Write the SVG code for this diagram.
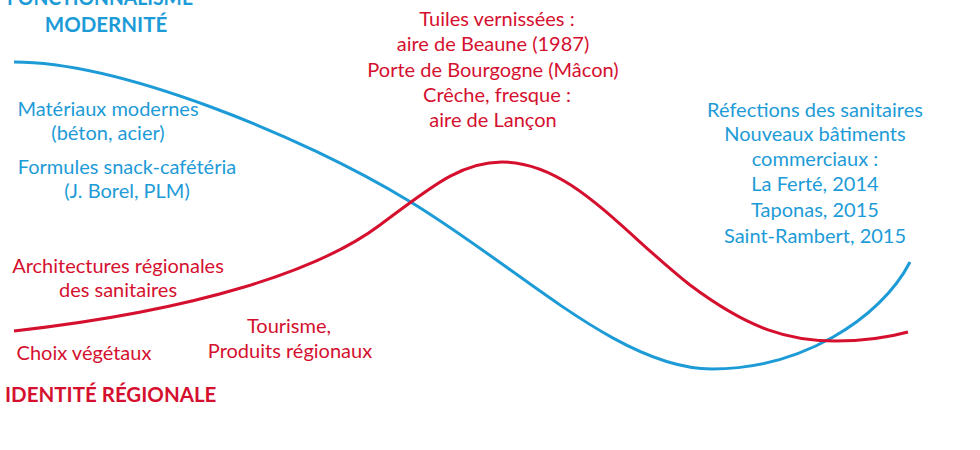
<svg xmlns="http://www.w3.org/2000/svg" width="980" height="450" viewBox="0 0 980 450">
<style>
.t{font-family:Lato,"Open Sans","Liberation Sans",sans-serif;font-size:20px;text-anchor:middle}
.h{font-family:Lato,"Open Sans","Liberation Sans",sans-serif;font-size:20.5px;font-weight:bold}
.b{fill:#1d9bd7}
.r{fill:#d5102f}
.cb{fill:none;stroke:#1d9bd7;stroke-width:3}
.cr{fill:none;stroke:#d5102f;stroke-width:3}
</style>
<rect width="980" height="450" fill="#fff"/>
<g id="connectors">
<path id="curve-modernite" class="cb" d="M14,62 C120,62 300,135 409,201 C520,268 620,369 712,369 C800,369 880,320 910,262"/>
<path id="curve-regionale" class="cr" d="M14,331 C200,310 320,270 380,225 C430,188 460,162 502,162 C570,162 620,230 690,285 C750,330 790,341 835,341 C870,341 890,337 908,332"/>
</g>
<g id="title-modernite">
<text class="h b" x="100" y="5" text-anchor="middle" textLength="186" lengthAdjust="spacingAndGlyphs">FONCTIONNALISME</text>
<text class="h b" x="106" y="32" text-anchor="middle">MODERNITÉ</text>
</g>
<g id="materiaux">
<text class="t b" x="108" y="116">Matériaux modernes</text>
<text class="t b" x="108" y="140">(béton, acier)</text>
</g>
<g id="formules">
<text class="t b" x="127" y="174">Formules snack-cafétéria</text>
<text class="t b" x="127" y="198">(J. Borel, PLM)</text>
</g>
<g id="architectures">
<text class="t r" x="118" y="273">Architectures régionales</text>
<text class="t r" x="118" y="297">des sanitaires</text>
</g>
<g id="choix">
<text class="t r" x="84" y="360">Choix végétaux</text>
</g>
<g id="tourisme">
<text class="t r" x="289" y="333">Tourisme,</text>
<text class="t r" x="290" y="358">Produits régionaux</text>
</g>
<g id="title-identite">
<text class="h r" x="5" y="402">IDENTITÉ RÉGIONALE</text>
</g>
<g id="tuiles">
<text class="t r" x="497" y="26">Tuiles vernissées :</text>
<text class="t r" x="493" y="51">aire de Beaune (1987)</text>
<text class="t r" x="493" y="77">Porte de Bourgogne (Mâcon)</text>
<text class="t r" x="497" y="102">Crêche, fresque :</text>
<text class="t r" x="493" y="127">aire de Lançon</text>
</g>
<g id="refections">
<text class="t b" x="815" y="117">Réfections des sanitaires</text>
<text class="t b" x="815" y="141">Nouveaux bâtiments</text>
<text class="t b" x="815" y="166">commerciaux :</text>
<text class="t b" x="815" y="191">La Ferté, 2014</text>
<text class="t b" x="815" y="217">Taponas, 2015</text>
<text class="t b" x="815" y="243">Saint-Rambert, 2015</text>
</g>
</svg>
